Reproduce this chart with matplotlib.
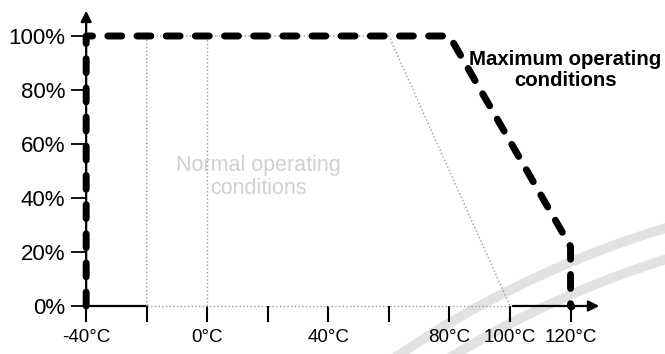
import numpy as np
import matplotlib
matplotlib.use('Agg')
import matplotlib.pyplot as plt
from matplotlib.patches import Arc

plt.rcParams['font.family'] = ['Liberation Sans', 'DejaVu Sans']

# data
x_ticks = [-40, -20, 0, 20, 40, 60, 80, 100, 120]
x_labels = ['-40°C', '', '0°C', '', '40°C', '', '80°C', '100°C', '120°C']
y_ticks = [0, 20, 40, 60, 80, 100]
y_labels = ['0%', '20%', '40%', '60%', '80%', '100%']

max_temp = [-40, -40, 80, 120, 120]
max_load = [0, 100, 100, 22, 0]

norm_temp = [-20, -20, 60, 100]
norm_load = [0, 100, 100, 0]
norm_mid_temp = [0, 0]
norm_mid_load = [0, 100]

fig = plt.figure(figsize=(6.65, 3.54), dpi=100)

# faint watermark arcs in the background (pixel coords)
bg = fig.add_axes([0, 0, 1, 1], zorder=0)
bg.set_xlim(0, 665)
bg.set_ylim(354, 0)
bg.axis('off')
for r in [983, 953]:
    bg.add_patch(Arc((950, 1169), 2*r, 2*r, theta1=180, theta2=300,
                     color='#e2e2e2', lw=7))

ax = fig.add_axes([0, 0, 1, 1], zorder=1)
ax.patch.set_alpha(0)
ax.set_xlim(-68.46, 151.2)
ax.set_ylim(-17.78, 113.33)

for s in ['top', 'right']:
    ax.spines[s].set_visible(False)
ax.spines['left'].set_position(('data', -40))
ax.spines['bottom'].set_position(('data', 0))
ax.spines['left'].set_color('none')
ax.spines['bottom'].set_color('none')

ax.set_xticks(x_ticks)
ax.set_xticklabels(x_labels, fontsize=13.5)
ax.set_yticks(y_ticks)
ax.set_yticklabels(y_labels, fontsize=16)
ax.tick_params(axis='x', direction='out', length=11.5, width=1.5, pad=5, color='black')
ax.tick_params(axis='y', direction='out', length=11, width=1.3, pad=4, color='black')

# axes lines with arrows
ax.annotate('', xy=(-40, 110.4), xytext=(-40, -0.5),
            arrowprops=dict(arrowstyle='-|>', lw=1.6, color='black', mutation_scale=16))
ax.plot([-40, -20], [0, 0], color='black', lw=1.6)
ax.annotate('', xy=(130.4, 0), xytext=(100, 0),
            arrowprops=dict(arrowstyle='-|>', lw=1.6, color='black', mutation_scale=16))

# normal operating conditions (faint dotted)
ax.plot(norm_temp, norm_load, color='#9a9a9a', lw=1, ls=':')
ax.plot(norm_mid_temp, norm_mid_load, color='#9a9a9a', lw=1, ls=':')
ax.plot([-20, 100], [0, 0], color='#9a9a9a', lw=1, ls=':')
ax.text(16.8, 47.8, 'Normal operating\nconditions', ha='center', va='center',
        fontsize=15.5, color='#d0d0d0', linespacing=1.1)

# maximum operating conditions (thick dashed)
ax.plot(max_temp, max_load, color='black', lw=5, dashes=(2.0, 2.2),
        dash_capstyle='round', clip_on=False)
ax.plot([120], [0], 'o', color='black', ms=4.5)
ax.text(118.2, 87.4, 'Maximum operating\nconditions', ha='center', va='center',
        fontsize=14.7, fontweight='bold', color='black', linespacing=1.1)

fig.savefig('out.png', dpi=100)
